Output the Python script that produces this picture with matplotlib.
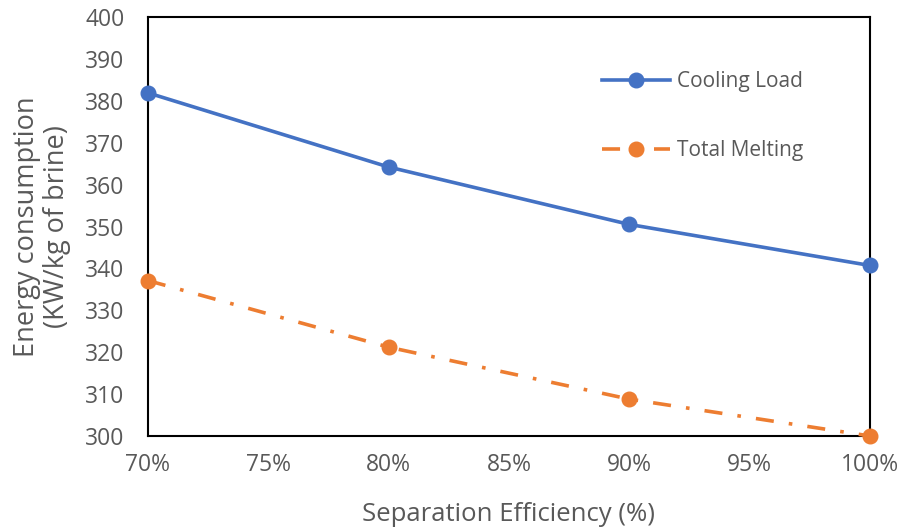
import numpy as np
import matplotlib.pyplot as plt
from matplotlib.ticker import FuncFormatter

plt.rcParams['font.family'] = ['Open Sans', 'DejaVu Sans']

# separation efficiency (%) and energy use per series
efficiency = [70, 80, 90, 100]
cooling_load = [381.9, 364.2, 350.5, 340.7]
total_melting = [337.1, 321.2, 308.8, 300.0]

x_ticks = [70, 75, 80, 85, 90, 95, 100]
y_ticks = list(range(300, 401, 10))

text_grey = '#595959'
blue = '#4472C4'
orange = '#ED7D31'

fig = plt.figure(figsize=(9.04, 5.31), dpi=100)
ax = fig.add_axes([0.1637, 0.1789, 0.7987, 0.789])

ax.plot(efficiency, cooling_load, color=blue, lw=2.6, marker='o', ms=10.5,
        label='Cooling Load', clip_on=False, zorder=3)
ax.plot(efficiency, total_melting, color=orange, lw=2.6, marker='o', ms=10.5,
        linestyle=(0, (5, 4.2, 1, 4.2)), label='Total Melting',
        clip_on=False, zorder=3)

ax.set_xlim(70, 100)
ax.set_ylim(300, 400)
ax.set_xticks(x_ticks)
ax.set_yticks(y_ticks)
ax.xaxis.set_major_formatter(FuncFormatter(lambda v, p: f'{v:.0f}%'))

ax.tick_params(length=0, labelsize=16.5, colors=text_grey)
ax.tick_params(axis='y', pad=17)
ax.tick_params(axis='x', pad=12)
for s in ax.spines.values():
    s.set_color('black')
    s.set_linewidth(1.5)

ax.set_xlabel('Separation Efficiency (%)', fontsize=18.5, color=text_grey, labelpad=18)
ax.set_ylabel('Energy consumption\n(KW/kg of brine)', fontsize=19.5,
              color=text_grey, labelpad=10, linespacing=1.1)

leg = ax.legend(loc='upper left', bbox_to_anchor=(0.614, 0.895), frameon=False,
                fontsize=15, labelspacing=2.3, handlelength=3.3,
                handletextpad=0.3, borderpad=0)
for t in leg.get_texts():
    t.set_color(text_grey)

fig.savefig('out.png', dpi=100)
